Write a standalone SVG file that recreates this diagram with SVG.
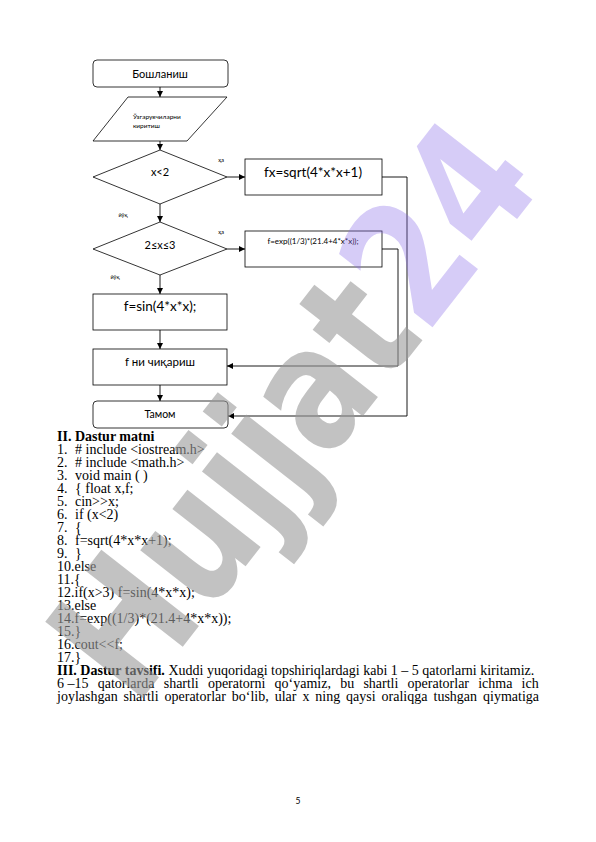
<svg xmlns="http://www.w3.org/2000/svg" width="596" height="842" viewBox="0 0 596 842">
<style>
.box{fill:#fff;stroke:#000;stroke-width:0.8}
.fc{font-family:Lato,"Noto Sans","Liberation Sans",sans-serif;fill:#000}
.lbl{font-family:Lato,"Noto Sans","Liberation Sans",sans-serif;font-size:5.5px;fill:#000}
.con{fill:none;stroke:#000;stroke-width:0.9}
.tx{font-family:"Liberation Serif","Times New Roman",serif;font-size:14px;fill:#000}
.b{font-weight:bold}
</style>
<defs>
<marker id="ar" markerWidth="6" markerHeight="6" refX="6" refY="3" orient="auto" markerUnits="userSpaceOnUse">
<path d="M0,0 L6,3 L0,6 z" fill="#000"/>
</marker>
</defs>
<rect width="596" height="842" fill="#fff"/>

<g id="connectors">
<line class="con" x1="160" y1="87" x2="160" y2="97" marker-end="url(#ar)"/>
<line class="con" x1="160" y1="141" x2="160" y2="150" marker-end="url(#ar)"/>
<line class="con" x1="160" y1="204" x2="160" y2="222" marker-end="url(#ar)"/>
<line class="con" x1="160" y1="275" x2="160" y2="294" marker-end="url(#ar)"/>
<line class="con" x1="160" y1="330" x2="160" y2="349" marker-end="url(#ar)"/>
<line class="con" x1="160" y1="385" x2="160" y2="401" marker-end="url(#ar)"/>
<line class="con" x1="227" y1="177" x2="245" y2="177" marker-end="url(#ar)"/>
<line class="con" x1="227" y1="249" x2="245" y2="249" marker-end="url(#ar)"/>
<polyline class="con" points="382,177 407,177 407,416 228,416" marker-end="url(#ar)"/>
<polyline class="con" points="382,249 398,249 398,366 227,366" marker-end="url(#ar)"/>
<text class="lbl" x="221" y="162" text-anchor="middle">ҳа</text>
<text class="lbl" x="123" y="217" text-anchor="middle">йўқ</text>
<text class="lbl" x="221" y="234" text-anchor="middle">ҳа</text>
<text class="lbl" x="115" y="279" text-anchor="middle">йўқ</text>
</g>

<g id="start">
<rect class="box" x="93" y="60" width="135" height="27" rx="4"/>
<text class="fc" x="160" y="78" font-size="11" text-anchor="middle">Бошланиш</text>
</g>
<g id="input">
<polygon class="box" points="128,97 227,97 187,141 93,141"/>
<text class="fc" x="133" y="119" font-size="6.5">Ўзгарувчиларни</text>
<text class="fc" x="133" y="128" font-size="6.5">киритиш</text>
</g>
<g id="cond1">
<polygon class="box" points="160,150 227,177 160,204 93,177"/>
<text class="fc" x="160" y="176" font-size="11" text-anchor="middle">x&lt;2</text>
</g>
<g id="sqrt">
<rect class="box" x="245" y="159" width="137" height="36"/>
<text class="fc" x="313" y="177" font-size="13.5" text-anchor="middle">fx=sqrt(4*x*x+1)</text>
</g>
<g id="cond2">
<polygon class="box" points="160,222 227,249 160,275 93,249"/>
<text class="fc" x="160" y="249" font-size="11" text-anchor="middle">2≤x≤3</text>
</g>
<g id="exp">
<rect class="box" x="245" y="231" width="137" height="36"/>
<text class="fc" x="313" y="244" font-size="8" text-anchor="middle">f=exp((1/3)*(21.4+4*x*x));</text>
</g>
<g id="sin">
<rect class="box" x="93" y="294" width="134" height="36"/>
<text class="fc" x="160" y="311" font-size="13.5" text-anchor="middle">f=sin(4*x*x);</text>
</g>
<g id="output">
<rect class="box" x="93" y="349" width="134" height="36"/>
<text class="fc" x="160" y="366" font-size="11.5" text-anchor="middle">f ни чиқариш</text>
</g>
<g id="end">
<rect class="box" x="93" y="401" width="135" height="27" rx="4"/>
<text class="fc" x="160" y="418" font-size="10.5" text-anchor="middle">Тамом</text>
</g>

<g id="program-text">
<text class="tx b" x="57" y="441">II. Dastur matni</text>
<text class="tx" x="57" y="454">1.</text><text class="tx" x="75" y="454"># include &lt;iostream.h&gt;</text>
<text class="tx" x="57" y="467">2.</text><text class="tx" x="75" y="467"># include &lt;math.h&gt;</text>
<text class="tx" x="57" y="480">3.</text><text class="tx" x="75" y="480">void main ( )</text>
<text class="tx" x="57" y="493">4.</text><text class="tx" x="75" y="493">{ float x,f;</text>
<text class="tx" x="57" y="506">5.</text><text class="tx" x="75" y="506">cin&gt;&gt;x;</text>
<text class="tx" x="57" y="519">6.</text><text class="tx" x="75" y="519">if (x&lt;2)</text>
<text class="tx" x="57" y="532">7.</text><text class="tx" x="75" y="532">{</text>
<text class="tx" x="57" y="545">8.</text><text class="tx" x="75" y="545">f=sqrt(4*x*x+1);</text>
<text class="tx" x="57" y="558">9.</text><text class="tx" x="75" y="558">}</text>
<text class="tx" x="57" y="571">10.else</text>
<text class="tx" x="57" y="584">11.{</text>
<text class="tx" x="57" y="597">12.if(x&gt;3) f=sin(4*x*x);</text>
<text class="tx" x="57" y="610">13.else</text>
<text class="tx" x="57" y="623">14.f=exp((1/3)*(21.4+4*x*x));</text>
<text class="tx" x="57" y="636">15.}</text>
<text class="tx" x="57" y="649">16.cout&lt;&lt;f;</text>
<text class="tx" x="57" y="662">17.}</text>
<text class="tx" x="57" y="675"><tspan class="b">III. Dastur tavsifi.</tspan> Xuddi yuqoridagi topshiriqlardagi kabi 1 – 5 qatorlarni kiritamiz.</text>
<text class="tx" y="688"><tspan x="57">6</tspan><tspan x="67.5">–15</tspan><tspan x="97.7">qatorlarda</tspan><tspan x="163.7">shartli</tspan><tspan x="207.9">operatorni</tspan><tspan x="274.6">qo‘yamiz,</tspan><tspan x="340.2">bu</tspan><tspan x="363.4">shartli</tspan><tspan x="407.6">operatorlar</tspan><tspan x="478.2">ichma</tspan><tspan x="521.6">ich</tspan></text>
<text class="tx" y="701"><tspan x="57">joylashgan</tspan><tspan x="123.6">shartli</tspan><tspan x="164.5">operatorlar</tspan><tspan x="231.8">bo‘lib,</tspan><tspan x="274.7">ular</tspan><tspan x="302.4">x</tspan><tspan x="315.3">ning</tspan><tspan x="346.1">qaysi</tspan><tspan x="381.6">oraliqga</tspan><tspan x="433.5">tushgan</tspan><tspan x="483">qiymatiga</tspan></text>
<text class="fc" x="298" y="804" font-size="8.5" text-anchor="middle">5</text>
</g>

<g id="watermark">
<text transform="translate(135,708) rotate(-52) scale(0.82,1)" font-family="DejaVu Sans" font-weight="bold" font-size="170"><tspan fill="#9a9a9a" fill-opacity="0.6">Hujjat</tspan><tspan fill="#8a6de9" fill-opacity="0.35">24</tspan></text>
</g>
</svg>
